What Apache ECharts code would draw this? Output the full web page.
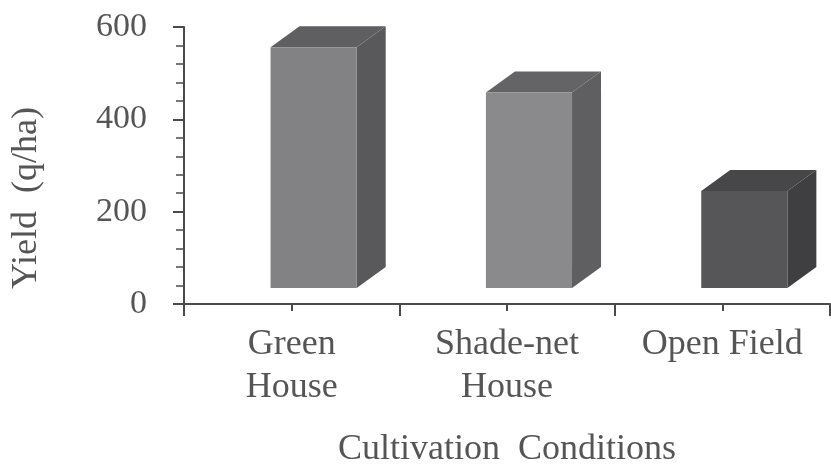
<!DOCTYPE html>
<html>
<head>
<meta charset="utf-8">
<script src="https://cdn.jsdelivr.net/npm/echarts@6/dist/echarts.min.js"></script>
<style>
  html, body { margin: 0; padding: 0; background: #ffffff; }
  #chart { width: 831px; height: 473px; }
</style>
</head>
<body>
<div id="chart"></div>
<script>
// Yield under three cultivation conditions
const categories = ['Green\nHouse', 'Shade-net\nHouse', 'Open Field'];
const yieldValues = [556, 458, 245];
const yMin = 0, yMax = 600, yStep = 200;

// per-bar shading: front, top and side faces of each block
const frontColors = ['#828284', '#8a8a8c', '#565658'];
const topColors = ['#5f5f61', '#646466', '#47474a'];
const sideColors = ['#59595b', '#5f5f61', '#3f3f41'];

const serif = '"Liberation Serif", "Times New Roman", serif';
const inkColor = '#555555';
const axisColor = '#4a4a4a';

const chart = echarts.init(document.getElementById('chart'), null, { renderer: 'canvas' });

function renderBlock(params, api) {
  const idx = api.value(0);
  const v = api.value(1);
  const base = api.coord([idx, 0]);
  const top = api.coord([idx, v]);
  const band = api.size([1, 0])[0];
  const w = band * 0.40;
  const cx = base[0] + band * 0.102;
  const lift = 16, dx = 29, dy = 21;
  const x0 = cx - w / 2, x1 = cx + w / 2;
  const yb = base[1] - lift, yt = top[1];
  return {
    type: 'group',
    children: [
      { type: 'polygon', shape: { points: [[x1, yt], [x1 + dx, yt - dy], [x1 + dx, yb - dy], [x1, yb]] },
        style: { fill: sideColors[idx] } },
      { type: 'polygon', shape: { points: [[x0, yt], [x0 + dx, yt - dy], [x1 + dx, yt - dy], [x1, yt]] },
        style: { fill: topColors[idx] } },
      { type: 'rect', shape: { x: x0, y: yt, width: w, height: yb - yt },
        style: { fill: frontColors[idx] } }
    ]
  };
}

chart.setOption({
  animation: false,
  backgroundColor: '#ffffff',
  grid: { left: 184, right: 1, top: 27, bottom: 158, containLabel: false },
  xAxis: [
    {
      type: 'category',
      data: categories,
      boundaryGap: true,
      name: 'Cultivation  Conditions',
      nameLocation: 'middle',
      nameGap: 128,
      nameTextStyle: { fontFamily: serif, fontSize: 36, color: inkColor },
      axisLine: { show: true, lineStyle: { color: axisColor, width: 2 } },
      axisTick: { show: true, interval: 0, alignWithLabel: false, length: 12, lineStyle: { color: axisColor, width: 2 } },
      axisLabel: { interval: 0, margin: 19, fontFamily: serif, fontSize: 36, lineHeight: 43, color: inkColor },
      splitLine: { show: false }
    },
    {
      type: 'category',
      data: categories,
      position: 'bottom',
      axisLine: { show: false },
      axisTick: { show: true, interval: 0, alignWithLabel: true, length: 7, lineStyle: { color: axisColor, width: 2 } },
      axisLabel: { show: false },
      splitLine: { show: false }
    }
  ],
  yAxis: {
    type: 'value',
    min: yMin,
    max: yMax,
    interval: yStep,
    axisLine: { show: true, lineStyle: { color: axisColor, width: 2 } },
    axisTick: { show: true, length: 11, lineStyle: { color: axisColor, width: 2 } },
    minorTick: { show: true, splitNumber: 5, length: 8, lineStyle: { color: axisColor, width: 1.5 } },
    axisLabel: { margin: 37, fontFamily: serif, fontSize: 34, color: inkColor },
    splitLine: { show: false },
    minorSplitLine: { show: false }
  },
  graphic: [
    {
      type: 'text',
      x: 27,
      y: 198,
      rotation: Math.PI / 2,
      style: {
        text: 'Yield  (q/ha)',
        font: '36px ' + serif,
        fill: inkColor,
        align: 'center',
        verticalAlign: 'middle'
      }
    }
  ],
  series: [
    {
      type: 'custom',
      xAxisIndex: 0,
      yAxisIndex: 0,
      renderItem: renderBlock,
      encode: { x: 0, y: 1 },
      data: yieldValues.map((v, i) => [i, v])
    }
  ]
});
</script>
</body>
</html>
